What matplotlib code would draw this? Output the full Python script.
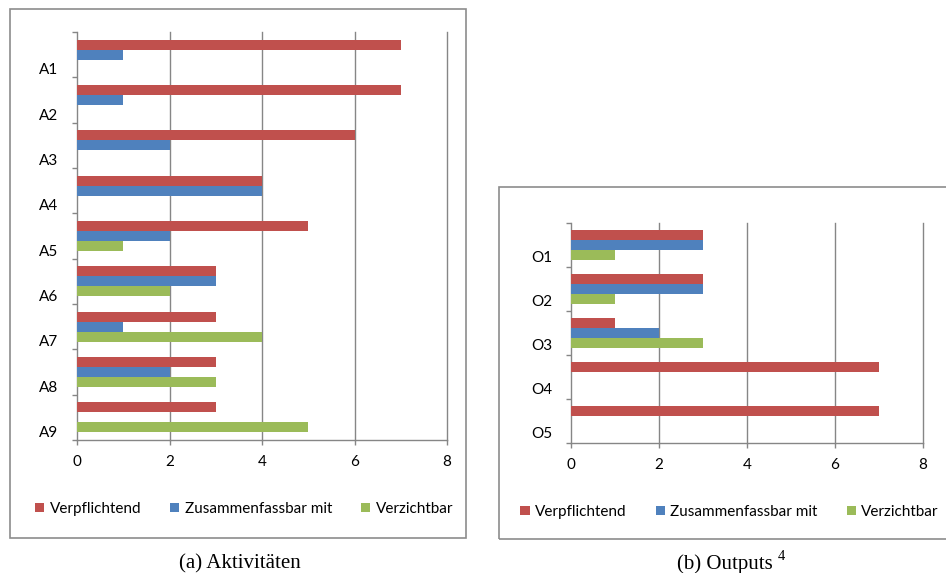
import matplotlib
matplotlib.use("Agg")
import matplotlib.pyplot as plt
from matplotlib.patches import Rectangle, Patch
import numpy as np

# ---------------- data ----------------
series_names = ["Verpflichtend", "Zusammenfassbar mit", "Verzichtbar"]
colors = ["#C0504D", "#4F81BD", "#9BBB59"]

act_labels = ["A1", "A2", "A3", "A4", "A5", "A6", "A7", "A8", "A9"]
act_verpflichtend = [7, 7, 6, 4, 5, 3, 3, 3, 3]
act_zusammen = [1, 1, 2, 4, 2, 3, 1, 2, 0]
act_verzichtbar = [0, 0, 0, 0, 1, 2, 4, 3, 5]

out_labels = ["O1", "O2", "O3", "O4", "O5"]
out_verpflichtend = [3, 3, 1, 7, 7]
out_zusammen = [3, 3, 2, 0, 0]
out_verzichtbar = [1, 1, 3, 0, 0]

x_ticks = [0, 2, 4, 6, 8]
captions = ["(a) Aktivitäten", "(b) Outputs"]
caption_sup = ["", "4"]

W, H = 946, 573
fig = plt.figure(figsize=(W / 100, H / 100), dpi=100)
FONT = "Lato"
FS = 11
GRAY = "#868686"


def fx(x):
    return x / W


def fy(y):
    return 1 - y / H


def draw_chart(box, plot, labels, vals, legend_center, caption, sup, cap_x, label_off):
    # outer box
    bx0, by0, bx1, by1 = box
    fig.patches.append(Rectangle((fx(bx0), fy(by1)), fx(bx1 - bx0), (by1 - by0) / H,
                                 transform=fig.transFigure, fill=False,
                                 edgecolor="#8C8C8C", linewidth=1.2))
    px0, py0, px1, py1 = plot
    ax = fig.add_axes([fx(px0), fy(py1), fx(px1 - px0), (py1 - py0) / H])
    n = len(labels)
    y = np.arange(n)
    h = 0.22
    for k, (v, c) in enumerate(zip(vals, colors)):
        ax.barh(y + (k - 1) * h, v, height=h, color=c, edgecolor="none", zorder=3)
    ax.set_xlim(0, 8)
    ax.set_ylim(n - 0.5, -0.5)
    ax.set_xticks(x_ticks)
    ax.set_xticklabels([str(t) for t in x_ticks], fontfamily=FONT, fontsize=FS)
    ax.set_yticks(y + label_off)
    ax.set_yticklabels(labels, fontfamily=FONT, fontsize=FS)
    ax.set_yticks(np.arange(n + 1) - 0.5, minor=True)
    ax.tick_params(axis="y", which="major", length=0, pad=13.5)
    ax.tick_params(axis="y", which="minor", length=3.6, width=1.0, color=GRAY, direction="out")
    ax.tick_params(axis="x", length=3.6, width=1.0, color=GRAY, direction="out", pad=7)
    for s in ["top", "right"]:
        ax.spines[s].set_visible(False)
    for s in ["left", "bottom"]:
        ax.spines[s].set_color(GRAY)
        ax.spines[s].set_linewidth(1.0)
    for t in x_ticks[1:]:
        ax.axvline(t, color=GRAY, linewidth=1.0, zorder=1, clip_on=False)
    ax.set_facecolor("none")
    handles = [Patch(facecolor=c, edgecolor="none") for c in colors]
    fig.legend(handles, series_names, loc="center",
               bbox_to_anchor=(fx(legend_center[0]), fy(legend_center[1])),
               bbox_transform=fig.transFigure, ncol=3, frameon=False,
               prop={"family": FONT, "size": FS}, handlelength=0.6, handleheight=0.6,
               handletextpad=0.35, columnspacing=1.9, borderpad=0)
    t = fig.text(fx(cap_x), fy(564), caption, ha="center", va="center",
                 fontfamily="Liberation Serif", fontsize=15)
    if sup:
        fig.canvas.draw()
        bb = t.get_window_extent()
        fig.text(bb.x1 / W + fx(5), fy(557), sup, ha="left", va="center",
                 fontfamily="Liberation Serif", fontsize=10.5)


draw_chart((10, 9, 466, 538), (77, 32, 447, 440), act_labels,
           [act_verpflichtend, act_zusammen, act_verzichtbar],
           (244, 509), captions[0], caption_sup[0], 240, 0.31)
draw_chart((499, 187, 950, 539), (571, 223, 923, 443), out_labels,
           [out_verpflichtend, out_zusammen, out_verzichtbar],
           (729.5, 512), captions[1], caption_sup[1], 725, 0.27)

fig.savefig("out.png", dpi=100)
